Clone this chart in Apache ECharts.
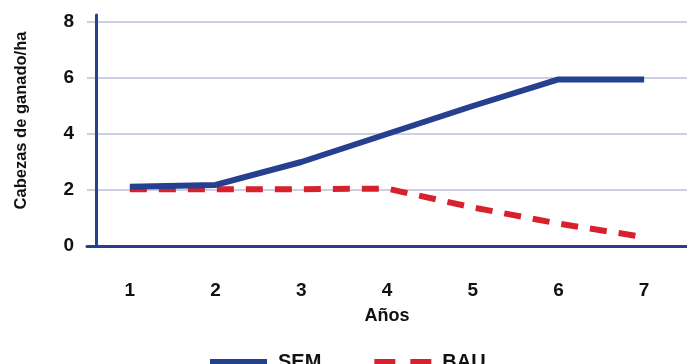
<!DOCTYPE html>
<html><head><meta charset="utf-8">
<script src="https://cdn.jsdelivr.net/npm/echarts@6/dist/echarts.min.js"></script>
<style>html,body{margin:0;padding:0;background:#fff}#c{width:687px;height:364px}</style>
</head><body><div id="c"></div>
<script>
const years = ['1','2','3','4','5','6','7'];
const sem = [2.12, 2.18, 3.0, 4.0, 5.0, 5.95, 5.95];
const bau = [2.03, 2.03, 2.03, 2.05, 1.38, 0.8, 0.32];
const yTicks = [0, 2, 4, 6, 8];
const FONT = '"Liberation Sans Narrow", "Liberation Sans", sans-serif';
const BLUE = '#25408f', RED = '#d7212c', GRID = '#cfcfe3';
const chart = echarts.init(document.getElementById('c'));
chart.setOption({
  animation: false,
  textStyle: {fontFamily: FONT},
  grid: {left: 87, right: 0, top: 15, bottom: 118, containLabel: false},
  legend: {
    left: 205, top: 347, itemWidth: 57, itemHeight: 6, itemGap: 53,
    textStyle: {fontFamily: FONT, fontWeight: 'bold', fontSize: 20, color: '#111', padding: [0,0,0,6]},
    data: [
      {name: 'SEM', icon: 'path://M0,0H57V6H0Z'},
      {name: 'BAU', icon: 'path://M0,0H21V6H0Z M36,0H57V6H36Z'}
    ]
  },
  xAxis: {
    type: 'category', data: years, boundaryGap: true,
    name: 'Años', nameLocation: 'middle', nameGap: 61,
    nameTextStyle: {fontFamily: FONT, fontWeight: 'bold', fontSize: 18, color: '#111'},
    axisLine: {lineStyle: {color: BLUE, width: 3}},
    axisTick: {show: false},
    axisLabel: {margin: 35, fontFamily: FONT, fontWeight: 'bold', fontSize: 19, color: '#111'},
    splitLine: {show: false}
  },
  yAxis: {
    type: 'value', min: 0, max: 8.25, interval: 2, offset: -9,
    name: 'Cabezas de ganado/ha', nameLocation: 'middle', nameGap: 66,
    nameTextStyle: {fontFamily: FONT, fontWeight: 'bold', fontSize: 16.5, color: '#111', padding: [0,0,0,20]},
    axisLine: {show: true, lineStyle: {color: BLUE, width: 3}},
    axisTick: {show: false},
    axisLabel: {margin: 22, fontFamily: FONT, fontWeight: 'bold', fontSize: 19, color: '#111',
      formatter: v => yTicks.includes(v) ? String(v) : ''},
    splitLine: {show: true, lineStyle: {color: [GRID, GRID, GRID, GRID, GRID, 'rgba(0,0,0,0)'], width: 2}}
  },
  series: [
    {name: 'SEM', type: 'line', data: sem, symbol: 'none', z: 3,
     lineStyle: {color: BLUE, width: 6}, itemStyle: {color: BLUE}},
    {name: 'BAU', type: 'line', data: bau, symbol: 'none', z: 2,
     lineStyle: {color: RED, width: 6, type: [17, 12]}, itemStyle: {color: RED}}
  ]
});
</script></body></html>
